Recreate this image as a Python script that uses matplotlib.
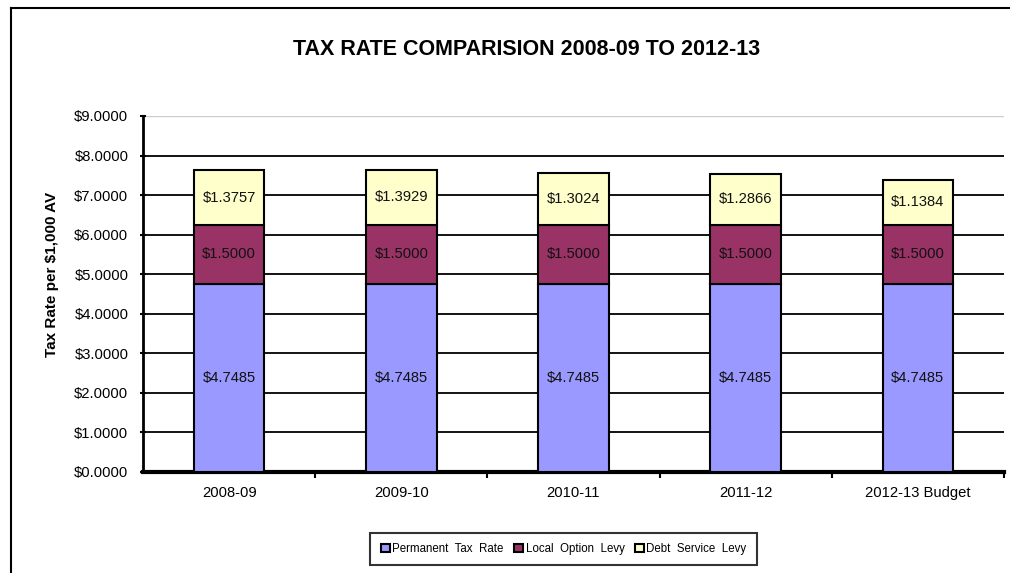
import numpy as np
import matplotlib.pyplot as plt
from matplotlib.lines import Line2D
from matplotlib.ticker import FuncFormatter, FixedLocator

plt.rcParams["font.family"] = ["Liberation Sans", "DejaVu Sans"]

# Tax rates per $1,000 assessed value
years = ["2008-09", "2009-10", "2010-11", "2011-12", "2012-13 Budget"]
permanent = [4.7485, 4.7485, 4.7485, 4.7485, 4.7485]
local_option = [1.5000, 1.5000, 1.5000, 1.5000, 1.5000]
debt_service = [1.3757, 1.3929, 1.3024, 1.2866, 1.1384]

series = [
    ("Permanent  Tax  Rate", permanent, "#9999FF"),
    ("Local  Option  Levy", local_option, "#993366"),
    ("Debt  Service  Levy", debt_service, "#FFFFCC"),
]

fig = plt.figure(figsize=(10.1, 5.73), dpi=100)
ax = fig.add_axes([0.1416, 0.1763, 0.8524, 0.6213])

x = np.arange(len(years))
bottom = np.zeros(len(years))
handles = []
for name, vals, color in series:
    vals = np.array(vals)
    bars = ax.bar(x, vals, width=0.41, bottom=bottom, color=color,
                  edgecolor="black", linewidth=1.5, zorder=3, label=name)
    for xi, b, v in zip(x, bottom, vals):
        ax.text(xi, b + v / 2, f"${v:.4f}", ha="center", va="center",
                fontsize=10.6, color="#111111", zorder=4)
    bottom += vals
    handles.append(bars)

ax.set_xlim(-0.5, len(years) - 0.5)
ax.set_ylim(0, 9)
ax.set_yticks(np.arange(0, 10, 1))
ax.yaxis.set_major_formatter(FuncFormatter(lambda v, _: f"${v:.4f}"))

# gridlines: black except the top one
for v in range(1, 9):
    ax.axhline(v, color="black", linewidth=1.3, zorder=1)
ax.axhline(9, color="#cccccc", linewidth=1.0, zorder=1)

ax.set_xticks(x)
ax.set_xticklabels(years)
ax.xaxis.set_minor_locator(FixedLocator(np.arange(0.5, len(years), 1)))
ax.tick_params(axis="x", which="major", length=0, pad=10, labelsize=10.6)
ax.tick_params(axis="x", which="minor", length=4, width=1.5, direction="out")
ax.tick_params(axis="y", length=5, width=1.5, direction="inout", labelsize=10.6, pad=8)

for side in ["top", "right"]:
    ax.spines[side].set_visible(False)
ax.spines["left"].set_linewidth(2)
ax.spines["bottom"].set_linewidth(3)

ax.set_ylabel("Tax Rate per $1,000 AV", fontsize=11, fontweight="bold")
ax.yaxis.set_label_coords(-0.0975, 0.556)

fig.text(0.521, 0.913, "TAX RATE COMPARISION 2008-09 TO 2012-13",
         ha="center", va="center", fontsize=15.5, fontweight="bold")

leg = fig.legend(handles=handles, loc="center", bbox_to_anchor=(0.558, 0.042),
                 ncol=3, fontsize=8.3, frameon=True, fancybox=False,
                 handlelength=0.8, handleheight=0.8, handletextpad=0.2,
                 columnspacing=0.9, borderpad=0.9)
leg.get_frame().set_edgecolor("black")
leg.get_frame().set_linewidth(1.5)

# chart border
fig.add_artist(Line2D([11 / 1010, 11 / 1010], [0, 1 - 8 / 573], color="black",
                      linewidth=1.5, transform=fig.transFigure))
fig.add_artist(Line2D([11 / 1010, 1], [1 - 8 / 573, 1 - 8 / 573], color="black",
                      linewidth=1.5, transform=fig.transFigure))

fig.savefig("out.png", dpi=100, facecolor="white")
